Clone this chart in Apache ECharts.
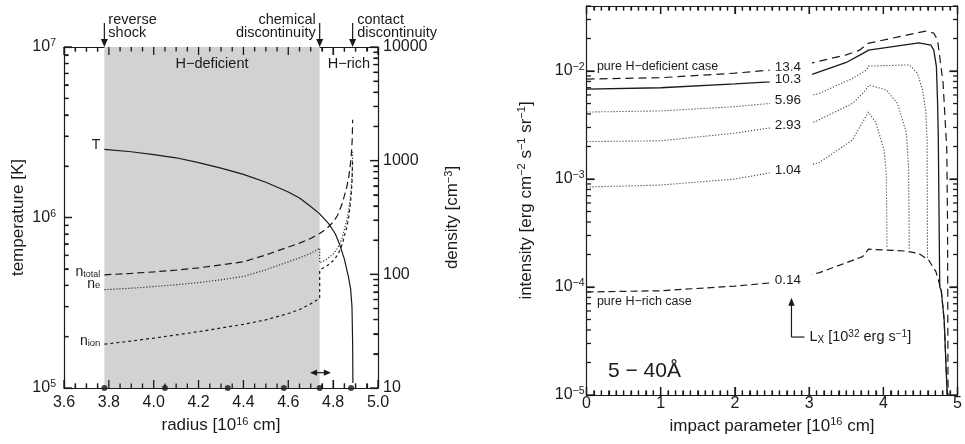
<!DOCTYPE html>
<html>
<head>
<meta charset="utf-8">
<script src="https://cdn.jsdelivr.net/npm/echarts@6.0.0/dist/echarts.min.js"></script>
<style>
html,body{margin:0;padding:0;background:#fff;}
#chart{width:965px;height:444px;}
</style>
</head>
<body>
<div id="chart"></div>
<script>
// ---------------- Left panel: structure of the shocked ejecta ----------------
const tempRadius   = [3.78, 3.90, 4.00, 4.10, 4.20, 4.30, 4.40, 4.50, 4.60, 4.65, 4.70, 4.74, 4.78, 4.81, 4.83, 4.85, 4.868, 4.878, 4.884, 4.887, 4.888];
const temperature  = [2.51e6, 2.43e6, 2.34e6, 2.24e6, 2.10e6, 1.95e6, 1.79e6, 1.61e6, 1.41e6, 1.30e6, 1.16e6, 1.05e6, 9.2e5, 8.0e5, 6.9e5, 5.7e5, 4.5e5, 3.8e5, 3.0e5, 1.8e5, 1.07e5];

const nTotalRadius = [3.78, 3.90, 4.00, 4.10, 4.20, 4.30, 4.40, 4.50, 4.60, 4.65, 4.70, 4.74, 4.77, 4.80, 4.82, 4.84, 4.86, 4.87, 4.88, 4.885, 4.887];
const nTotal       = [99, 102, 105, 109, 114, 121, 129, 148, 174, 188, 207, 229, 251, 288, 331, 417, 575, 724, 1047, 1514, 2290];

const nERadius     = [3.78, 3.90, 4.00, 4.10, 4.20, 4.30, 4.40, 4.50, 4.60, 4.65, 4.70, 4.74, 4.74, 4.77, 4.80, 4.82, 4.84, 4.86, 4.87, 4.88, 4.885, 4.887];
const nE           = [73.3, 75.5, 78, 80.9, 84.7, 89.5, 95.9, 109.6, 128.8, 139.6, 153, 170, 126, 135, 151, 170, 209, 295, 372, 550, 794, 1200];

const nIonRadius   = [3.78, 3.90, 4.00, 4.10, 4.20, 4.30, 4.40, 4.50, 4.60, 4.65, 4.70, 4.74, 4.74, 4.77, 4.80, 4.82, 4.84, 4.86, 4.87, 4.88, 4.885, 4.887];
const nIon         = [24.3, 25.9, 27.5, 29.3, 31.3, 33.7, 36.3, 39.8, 45.2, 49.0, 55.0, 61.7, 109.6, 117.5, 131.8, 147.9, 182, 257, 324, 479, 692, 1047];

const zoneRadius   = [3.78, 4.05, 4.33, 4.58, 4.74, 4.88];
const shadeRange   = [3.78, 4.74];           // H-deficient layer
const reverseShockR = 3.78, chemicalR = 4.74, contactR = 4.887;

// ---------------- Right panel: intensity profiles (5-40 A) ----------------
const lxLabels = ['13.4', '10.3', '5.96', '2.93', '1.04', '0.14'];

const b134 = [0, 1.0, 2.0, 2.47, 3.04, 3.5, 3.68, 3.79, 4.2, 4.57, 4.68, 4.73, 4.76, 4.805, 4.83, 4.855, 4.865, 4.872];
const i134 = [8.43e-3, 8.67e-3, 9.55e-3, 1.02e-2, 1.19e-2, 1.41e-2, 1.56e-2, 1.80e-2, 2.07e-2, 2.34e-2, 2.24e-2, 1.95e-2, 1.35e-2, 7.76e-3, 3.80e-3, 1.86e-3, 3.98e-4, 1.0e-5];

const b103 = [0, 1.0, 2.0, 2.47, 3.04, 3.5, 3.72, 3.80, 4.48, 4.64, 4.68, 4.715, 4.73, 4.74, 4.76, 4.78, 4.82, 4.84, 4.86];
const i103 = [6.81e-3, 7.00e-3, 7.59e-3, 7.94e-3, 9.33e-3, 1.20e-2, 1.45e-2, 1.56e-2, 1.82e-2, 1.74e-2, 1.56e-2, 1.10e-2, 5.37e-3, 2.63e-3, 1.0e-4, 9.33e-5, 4.90e-5, 2.24e-5, 1.0e-5];

const b596 = [0, 1.0, 2.0, 2.47, 3.13, 3.58, 3.77, 3.80, 4.35, 4.46, 4.53, 4.57, 4.59, 4.595];
const i596 = [4.17e-3, 4.27e-3, 4.68e-3, 5.01e-3, 6.17e-3, 8.51e-3, 1.02e-2, 1.11e-2, 1.14e-2, 9.55e-3, 6.61e-3, 4.37e-3, 2.29e-3, 1.86e-4];

const b293 = [0, 1.0, 2.0, 2.47, 3.08, 3.585, 3.72, 3.81, 4.04, 4.19, 4.31, 4.34, 4.35];
const i293 = [2.22e-3, 2.26e-3, 2.66e-3, 2.97e-3, 3.39e-3, 5.01e-3, 6.17e-3, 7.41e-3, 6.67e-3, 5.01e-3, 2.69e-3, 1.29e-3, 2.19e-4];

const b104 = [0, 1.0, 2.0, 2.47, 3.13, 3.58, 3.80, 3.90, 4.01, 4.04, 4.05];
const i104 = [8.43e-4, 8.79e-4, 1.0e-3, 1.14e-3, 1.41e-3, 2.29e-3, 4.17e-3, 3.31e-3, 1.86e-3, 1.12e-3, 2.34e-4];

const b014 = [0, 1.0, 2.0, 2.47, 3.13, 3.72, 3.80, 4.31, 4.48, 4.61, 4.71, 4.78, 4.82, 4.84, 4.862];
const i014 = [8.99e-5, 9.23e-5, 1.02e-4, 1.09e-4, 1.35e-4, 1.91e-4, 2.24e-4, 2.15e-4, 2.04e-4, 1.78e-4, 1.38e-4, 9.33e-5, 4.90e-5, 2.24e-5, 1.0e-5];

// axis ranges and major tick values
const radiusRange = [3.6, 5.0], tempRange = [1e5, 1e7], densRange = [10, 1e4];
const impactRange = [0, 5], intensRange = [1e-5, 0.04];
const intensityMajor = [1e-5, 1e-4, 1e-3, 1e-2];

// ---------------------------------------------------------------------------
const FF = 'Liberation Sans';
const INK = '#1a1a1a';
const zip = (xs, ys) => xs.map((x, i) => [x, ys[i]]);
const supRich = (fs, sfs) => ({
  a: {fontSize: fs, fontFamily: FF, color: INK, lineHeight: fs + 2},
  s: {fontSize: sfs, fontFamily: FF, color: INK, lineHeight: 8, verticalAlign: 'top'}
});
const isPow10 = v => Math.abs(Math.log10(v) - Math.round(Math.log10(v))) < 1e-6;
const powLabel = v => {
  if (!isPow10(v)) return '';
  const e = Math.round(Math.log10(v));
  return '{a|10}{s|' + (e < 0 ? '\u2212' + (-e) : e) + '}';
};
const majorTick = () => ({show: true, inside: true, length: 8, lineStyle: {color: INK, width: 1.2}});
const minorOf = n => ({show: true, splitNumber: n, length: 4.5, lineStyle: {color: INK, width: 1.2}});

function axis(extra) {
  return Object.assign({
    axisLine: {show: true, onZero: false, lineStyle: {color: INK, width: 1.2}},
    axisTick: majorTick(),
    minorTick: {show: false},
    splitLine: {show: false},
    minorSplitLine: {show: false},
    axisLabel: {show: false}
  }, extra);
}
const tickFont = {fontSize: 16, fontFamily: FF, color: INK};

const option = {
  animation: false,
  backgroundColor: '#fff',
  grid: [
    {left: 64, top: 47, width: 314, height: 341},
    {left: 586.5, top: 6, width: 372, height: 389}
  ],
  xAxis: [
    axis({gridIndex: 0, type: 'value', position: 'bottom', min: radiusRange[0], max: radiusRange[1], interval: 0.2, minorTick: minorOf(4),
      axisLabel: Object.assign({show: true, margin: 7, formatter: v => v.toFixed(1)}, tickFont),
      name: '{a|radius [10}{s|16}{a| cm]}', nameLocation: 'middle', nameGap: 28,
      nameTextStyle: {fontSize: 17, fontFamily: FF, color: INK, rich: supRich(17, 11)}}),
    axis({gridIndex: 0, type: 'value', position: 'top', min: radiusRange[0], max: radiusRange[1], interval: 0.2, minorTick: minorOf(4)}),
    axis({gridIndex: 1, type: 'value', position: 'bottom', min: impactRange[0], max: impactRange[1], interval: 1, minorTick: minorOf(10),
      axisLabel: Object.assign({show: true, margin: 1}, tickFont),
      name: '{a|impact parameter [10}{s|16}{a| cm]}', nameLocation: 'middle', nameGap: 21,
      nameTextStyle: {fontSize: 17, fontFamily: FF, color: INK, rich: supRich(17, 11)}}),
    axis({gridIndex: 1, type: 'value', position: 'top', min: impactRange[0], max: impactRange[1], interval: 1, minorTick: minorOf(10)})
  ],
  yAxis: [
    axis({gridIndex: 0, type: 'log', logBase: 10, position: 'left', min: tempRange[0], max: tempRange[1], minorTick: minorOf(9),
      axisLabel: {show: true, margin: 8, formatter: powLabel, rich: supRich(16, 10.5)},
      name: 'temperature [K]', nameLocation: 'middle', nameRotate: 90, nameGap: 37,
      nameTextStyle: {fontSize: 17, fontFamily: FF, color: INK}}),
    axis({gridIndex: 0, type: 'log', logBase: 10, position: 'right', min: densRange[0], max: densRange[1], minorTick: minorOf(9),
      axisLabel: Object.assign({show: true, margin: 5, formatter: v => isPow10(v) ? String(Math.round(v)) : ''}, tickFont),
      name: '{a|density [cm}{s|\u22123}{a|]}', nameLocation: 'middle', nameRotate: 90, nameGap: 65,
      nameTextStyle: {fontSize: 17, fontFamily: FF, color: INK, rich: supRich(17, 11)}}),
    axis({gridIndex: 1, type: 'log', logBase: 10, position: 'left', min: intensRange[0], max: intensRange[1],
      axisTick: Object.assign(majorTick(), {customValues: intensityMajor}),
      axisLabel: {show: true, margin: 2, customValues: intensityMajor, formatter: powLabel, rich: supRich(16, 10.5)},
      name: '{a|intensity [erg cm}{s|\u22122}{a| s}{s|\u22121}{a| sr}{s|\u22121}{a|]}',
      nameLocation: 'middle', nameRotate: 90, nameGap: 51,
      nameTextStyle: {fontSize: 17, fontFamily: FF, color: INK, rich: supRich(17, 11)}}),
    axis({gridIndex: 1, type: 'log', logBase: 10, position: 'right', min: intensRange[0], max: intensRange[1],
      axisTick: Object.assign(majorTick(), {customValues: intensityMajor})})
  ],
  series: [
    {name: 'T', type: 'line', xAxisIndex: 0, yAxisIndex: 0, data: zip(tempRadius, temperature),
      showSymbol: false, symbol: 'none', lineStyle: {color: INK, width: 1.2},
      markArea: {silent: true, itemStyle: {color: '#d1d2d4'},
        data: [[{xAxis: shadeRange[0]}, {xAxis: shadeRange[1]}]]}},
    {name: 'n_total', type: 'line', xAxisIndex: 0, yAxisIndex: 1, data: zip(nTotalRadius, nTotal),
      showSymbol: false, symbol: 'none', lineStyle: {color: INK, width: 1.2, type: [7, 4]}},
    {name: 'n_e', type: 'line', xAxisIndex: 0, yAxisIndex: 1, data: zip(nERadius, nE),
      showSymbol: false, symbol: 'none', lineStyle: {color: '#333', width: 1.2, type: [1.2, 1.8]}},
    {name: 'n_ion', type: 'line', xAxisIndex: 0, yAxisIndex: 1, data: zip(nIonRadius, nIon),
      showSymbol: false, symbol: 'none', lineStyle: {color: INK, width: 1.2, type: [3, 3]}},
    {name: 'zones', type: 'scatter', xAxisIndex: 0, yAxisIndex: 0, data: zoneRadius.map(r => [r, tempRange[0]]),
      symbol: 'circle', symbolSize: 6, clip: false, z: 12, itemStyle: {color: INK}},

    {name: lxLabels[0], type: 'line', xAxisIndex: 2, yAxisIndex: 2, data: zip(b134, i134),
      showSymbol: false, symbol: 'none', lineStyle: {color: INK, width: 1.2, type: [8, 5]}},
    {name: lxLabels[1], type: 'line', xAxisIndex: 2, yAxisIndex: 2, data: zip(b103, i103),
      showSymbol: false, symbol: 'none', lineStyle: {color: INK, width: 1.3}},
    {name: lxLabels[2], type: 'line', xAxisIndex: 2, yAxisIndex: 2, data: zip(b596, i596),
      showSymbol: false, symbol: 'none', lineStyle: {color: '#444', width: 1.1, type: [1.2, 1.8]}},
    {name: lxLabels[3], type: 'line', xAxisIndex: 2, yAxisIndex: 2, data: zip(b293, i293),
      showSymbol: false, symbol: 'none', lineStyle: {color: '#444', width: 1.1, type: [1.2, 1.8]}},
    {name: lxLabels[4], type: 'line', xAxisIndex: 2, yAxisIndex: 2, data: zip(b104, i104),
      showSymbol: false, symbol: 'none', lineStyle: {color: '#444', width: 1.1, type: [1.2, 1.8]}},
    {name: lxLabels[5], type: 'line', xAxisIndex: 2, yAxisIndex: 2, data: zip(b014, i014),
      showSymbol: false, symbol: 'none', lineStyle: {color: INK, width: 1.2, type: [7, 4]}}
  ]
};

const chart = echarts.init(document.getElementById('chart'), null, {renderer: 'canvas'});
chart.setOption(option);

// ---------------- annotations & ticks positioned through the chart's own scales ----------------
const P = (si, x, y) => chart.convertToPixel({seriesIndex: si}, [x, y]);
const g = [];
function text(x, y, str, st) {
  g.push({type: 'text', x: x, y: y, z: 100, silent: true,
    style: Object.assign({text: str, fill: INK, fontSize: 14.5, fontFamily: FF, align: 'left', verticalAlign: 'middle'}, st || {})});
}
function seg(x1, y1, x2, y2, w) {
  g.push({type: 'line', z: 100, silent: true, shape: {x1: x1, y1: y1, x2: x2, y2: y2}, style: {stroke: INK, lineWidth: w || 1.2}});
}
function bar(x, y, w, h) {
  g.push({type: 'rect', z: 100, silent: true, shape: {x: x, y: y, width: w, height: h}, style: {fill: INK}});
}
function head(x, y, dir, L, W) {
  L = L || 8; W = W || 3.5;
  let pts;
  if (dir === 'down') pts = [[x - W, y - L], [x + W, y - L], [x, y]];
  if (dir === 'up') pts = [[x - W, y + L], [x + W, y + L], [x, y]];
  if (dir === 'left') pts = [[x + L, y - W], [x + L, y + W], [x, y]];
  if (dir === 'right') pts = [[x - L, y - W], [x - L, y + W], [x, y]];
  g.push({type: 'polygon', z: 100, silent: true, shape: {points: pts}, style: {fill: INK}});
}

// ---- inside ticks (major 8 px, minor 4.5 px) drawn as thin filled bars, all four sides ----
const TW = 1.3;
function xTicks(si, xr, yr, step, every) {
  const yB = P(si, xr[0], yr[0])[1], yT = P(si, xr[0], yr[1])[1];
  const n = Math.round((xr[1] - xr[0]) / step);
  for (let i = 0; i <= n; i++) {
    const v = xr[0] + i * step;
    const x = P(si, v, yr[0])[0];
    const len = (i % every === 0) ? 8 : 4.5;
    bar(x - TW / 2, yB - len, TW, len);
    bar(x - TW / 2, yT, TW, len);
  }
}
function logTicks(yr) {
  const out = [];
  const e0 = Math.floor(Math.log10(yr[0]) + 1e-9), e1 = Math.ceil(Math.log10(yr[1]) - 1e-9);
  for (let e = e0; e <= e1; e++) for (let k = 1; k <= 9; k++) {
    const v = k * Math.pow(10, e);
    if (v >= yr[0] * 0.999 && v <= yr[1] * 1.001) out.push([v, k === 1]);
  }
  return out;
}
function yTicks(si, xr, yr, sides) {
  const xL = P(si, xr[0], yr[0])[0], xR = P(si, xr[1], yr[0])[0];
  logTicks(yr).forEach(([v, major]) => {
    const y = P(si, xr[0], v)[1];
    const len = major ? 8 : 4.5;
    if (sides.indexOf('L') >= 0) bar(xL, y - TW / 2, len, TW);
    if (sides.indexOf('R') >= 0) bar(xR - len, y - TW / 2, len, TW);
  });
}
xTicks(0, radiusRange, tempRange, 0.05, 4);
yTicks(0, radiusRange, tempRange, 'L');
yTicks(1, radiusRange, densRange, 'R');
xTicks(5, impactRange, intensRange, 0.1, 10);
yTicks(5, impactRange, intensRange, 'LR');

// top arrows of the left panel
const yTop = P(0, radiusRange[0], tempRange[1])[1];
[reverseShockR, chemicalR, contactR].forEach(r => {
  const x = P(0, r, tempRange[1])[0];
  seg(x, yTop - 24, x, yTop - 6);
  head(x, yTop, 'down', 8, 3.5);
});
const xRS = P(0, reverseShockR, 1e7)[0], xCD = P(0, chemicalR, 1e7)[0], xCT = P(0, contactR, 1e7)[0];
text(xRS + 4, yTop - 33, 'reverse\nshock', {verticalAlign: 'top', lineHeight: 12.5});
text(xCD - 4, yTop - 33, 'chemical\ndiscontinuity', {align: 'right', verticalAlign: 'top', lineHeight: 12.5});
text(xCT + 4.5, yTop - 33, 'contact\ndiscontinuity', {verticalAlign: 'top', lineHeight: 12.5});
text(P(0, (shadeRange[0] + shadeRange[1]) / 2, 1e7)[0], yTop + 17, 'H\u2212deficient', {align: 'center'});
text(P(0, (shadeRange[1] + radiusRange[1]) / 2, 1e7)[0], yTop + 17, 'H\u2212rich', {align: 'center'});

// chemical-discontinuity range arrow
{
  const a = P(0, 4.697, 1.23e5), b = P(0, 4.79, 1.23e5);
  seg(a[0] + 4, a[1], b[0] - 4, b[1]);
  head(a[0], a[1], 'left', 7, 3.2);
  head(b[0], b[1], 'right', 7, 3.2);
}

// curve labels of the left panel
const subRich = (fs, sfs) => ({
  a: {fontSize: fs, fontFamily: FF, color: INK, lineHeight: fs},
  s: {fontSize: sfs, fontFamily: FF, color: INK, lineHeight: 8, verticalAlign: 'bottom'}
});
{
  const t = P(0, tempRadius[0], temperature[0]);
  text(t[0] - 4, t[1] - 4, 'T', {align: 'right', fontSize: 14});
  const n1 = P(1, nTotalRadius[0], nTotal[0]);
  text(n1[0] - 4, n1[1] - 3, '{a|n}{s|total}', {align: 'right', rich: subRich(14, 9)});
  const n2 = P(2, nERadius[0], nE[0]);
  text(n2[0] - 4, n2[1] - 6, '{a|n}{s|e}', {align: 'right', rich: subRich(14, 9.5)});
  const n3 = P(3, nIonRadius[0], nIon[0]);
  text(n3[0] - 4, n3[1] - 3, '{a|n}{s|ion}', {align: 'right', rich: subRich(14, 9.5)});
}

// right panel labels (white box opens a gap in each curve)
const rightData = [[b134, i134], [b103, i103], [b596, i596], [b293, i293], [b104, i104], [b014, i014]];
rightData.forEach((d, k) => {
  const p = P(5 + k, d[0][3], d[1][3]);
  text(p[0], p[1] - 3, lxLabels[k], {fontSize: 13.5, backgroundColor: '#fff', padding: [1, 11, 1, 5]});
});
{
  const p1 = P(5, 0.14, 1.089e-2);
  text(p1[0], p1[1], 'pure H\u2212deficient case', {fontSize: 12.5});
  const p2 = P(5, 0.14, 7.41e-5);
  text(p2[0], p2[1], 'pure H\u2212rich case', {fontSize: 12.5});
  const p3 = P(5, 0.289, 1.67e-5);
  text(p3[0], p3[1], '5 \u2212 40\u00C5', {fontSize: 21});
  const top = P(5, 2.762, 7.94e-5), bot = P(5, 2.762, 3.44e-5), end = P(5, 2.937, 3.44e-5);
  seg(top[0], top[1] + 6, bot[0], bot[1]);
  head(top[0], top[1], 'up', 8, 3.2);
  seg(bot[0], bot[1], end[0], end[1]);
  const tp = P(5, 3.004, 3.44e-5);
  text(tp[0], tp[1], '{a|L}{sub|X}{a| [10}{s|32}{a| erg s}{s|\u22121}{a|]}', {
    rich: {
      a: {fontSize: 14.5, fontFamily: FF, color: INK, lineHeight: 16},
      sub: {fontSize: 10, fontFamily: FF, color: INK, lineHeight: 8, verticalAlign: 'bottom'},
      s: {fontSize: 10, fontFamily: FF, color: INK, lineHeight: 8, verticalAlign: 'top'}
    }
  });
}

chart.setOption({graphic: g});
</script>
</body>
</html>
